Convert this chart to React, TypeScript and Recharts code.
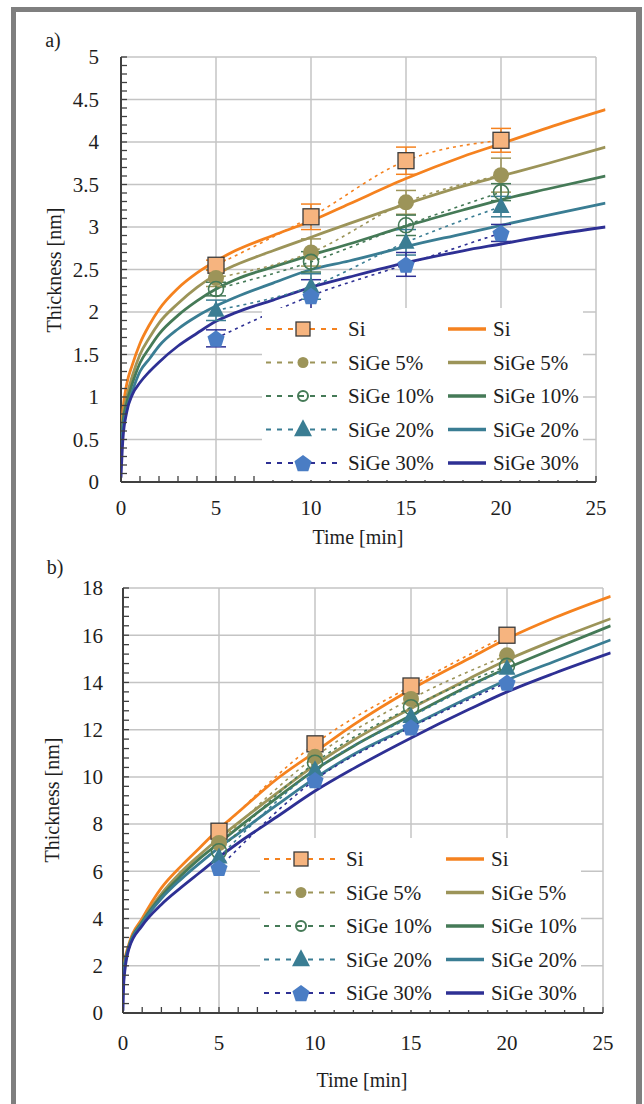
import React from 'react';
import { ComposedChart, Line, XAxis, YAxis, ReferenceLine, ErrorBar, Legend } from 'recharts';

const FONT = '"Liberation Serif", serif';
const TEXT = '#1e1e1e';
const GRID = '#c4c4c4';
const AXIS = '#404040';
const TICK_FS = 21;
const TITLE_FS = 20;

// ---------- shared ----------
const seriesNames = ['Si', 'SiGe 5%', 'SiGe 10%', 'SiGe 20%', 'SiGe 30%'];
const expTimes = [5, 10, 15, 20];
const xMajorTicks = [0, 5, 10, 15, 20, 25];
const xMinorStep = 1;
const xTitle = 'Time [min]';
const yTitle = 'Thickness [nm]';

// ---------- chart a) ----------
const aYMajorTicks = [0, 0.5, 1, 1.5, 2, 2.5, 3, 3.5, 4, 4.5, 5];
const aYMinorStep = 0.1;
const aExpSi = [2.55, 3.12, 3.78, 4.02];
const aExpSiGe5 = [2.4, 2.7, 3.29, 3.61];
const aExpSiGe10 = [2.27, 2.59, 3.02, 3.41];
const aExpSiGe20 = [2.02, 2.3, 2.82, 3.24];
const aExpSiGe30 = [1.69, 2.19, 2.56, 2.93];
const aErrSi = [0.06, 0.15, 0.16, 0.14];
const aErrSiGe5 = [0.1, 0.16, 0.14, 0.2];
const aErrSiGe10 = [0.08, 0.12, 0.12, 0.1];
const aErrSiGe20 = [0.12, 0.15, 0.15, 0.12];
const aErrSiGe30 = [0.1, 0.19, 0.14, 0.1];
const aSimTimes = [0, 0.1, 0.3, 0.6, 1, 1.5, 2, 3, 4, 5, 6, 8, 10, 12, 15, 18, 20, 22.5, 25.5];
const aSimSi = [0.55, 0.85, 1.15, 1.38, 1.63, 1.85, 2.03, 2.28, 2.46, 2.6, 2.72, 2.9, 3.07, 3.27, 3.57, 3.83, 3.98, 4.17, 4.38];
const aSimSiGe5 = [0.45, 0.75, 1.0, 1.25, 1.5, 1.7, 1.87, 2.1, 2.29, 2.44, 2.55, 2.72, 2.88, 3.04, 3.27, 3.48, 3.6, 3.75, 3.94];
const aSimSiGe10 = [0.4, 0.7, 0.93, 1.16, 1.4, 1.58, 1.74, 1.96, 2.13, 2.27, 2.38, 2.53, 2.67, 2.8, 3.01, 3.2, 3.32, 3.45, 3.6];
const aSimSiGe20 = [0.35, 0.62, 0.85, 1.07, 1.3, 1.45, 1.6, 1.8, 1.95, 2.07, 2.17, 2.34, 2.5, 2.6, 2.77, 2.92, 3.02, 3.14, 3.28];
const aSimSiGe30 = [0.05, 0.5, 0.82, 1.03, 1.17, 1.3, 1.41, 1.6, 1.75, 1.89, 1.99, 2.14, 2.29, 2.41, 2.58, 2.72, 2.8, 2.9, 3.0];

// ---------- chart b) ----------
const bYMajorTicks = [0, 2, 4, 6, 8, 10, 12, 14, 16, 18];
const bYMinorStep = 0.4;
const bExpSi = [7.7, 11.4, 13.85, 16.0];
const bExpSiGe5 = [7.2, 10.85, 13.3, 15.15];
const bExpSiGe10 = [6.85, 10.6, 12.95, 14.7];
const bExpSiGe20 = [6.6, 10.3, 12.55, 14.6];
const bExpSiGe30 = [6.15, 9.87, 12.1, 14.0];
const bSimTimes = [0, 0.05, 0.3, 1, 2, 3, 4, 5, 6, 8, 10, 12, 15, 18, 20, 22.5, 25.4];
const bSimSi = [1.4, 2.0, 2.9, 4.0, 5.3, 6.2, 7.0, 7.8, 8.5, 9.9, 11.05, 12.2, 13.7, 15.0, 15.85, 16.75, 17.65];
const bSimSiGe5 = [1.4, 1.9, 2.8, 3.9, 5.05, 5.95, 6.7, 7.4, 8.05, 9.3, 10.5, 11.55, 12.9, 14.15, 14.95, 15.8, 16.7];
const bSimSiGe10 = [1.4, 1.9, 2.8, 3.85, 4.95, 5.8, 6.55, 7.2, 7.85, 9.1, 10.3, 11.3, 12.6, 13.85, 14.6, 15.45, 16.4];
const bSimSiGe20 = [1.3, 1.8, 2.75, 3.8, 4.85, 5.65, 6.35, 7.0, 7.6, 8.8, 9.95, 10.95, 12.15, 13.35, 14.1, 14.9, 15.8];
const bSimSiGe30 = [0.1, 1.4, 2.7, 3.7, 4.6, 5.3, 5.95, 6.6, 7.2, 8.3, 9.4, 10.35, 11.65, 12.85, 13.6, 14.4, 15.25];

// ---------- styles ----------
type Shape = 'square' | 'circle' | 'ring' | 'triangle' | 'pentagon';
type Style = { color: string; fill: string; stroke: string; shape: Shape };
const styles: Style[] = [
  { color: '#F5821F', fill: '#F6B47F', stroke: '#3a3a3a', shape: 'square' },
  { color: '#9C9459', fill: '#9C9459', stroke: '#9C9459', shape: 'circle' },
  { color: '#457A57', fill: 'none', stroke: '#457A57', shape: 'ring' },
  { color: '#3A7D93', fill: '#3A7D93', stroke: '#3A7D93', shape: 'triangle' },
  { color: '#2E3094', fill: '#4A7DC4', stroke: '#4A7DC4', shape: 'pentagon' },
];

function marker(st: Style, cx: number, cy: number, legend: boolean, key?: any) {
  switch (st.shape) {
    case 'square': {
      const s = legend ? 14 : 16;
      return <rect key={key} x={cx - s / 2} y={cy - s / 2} width={s} height={s} fill={st.fill} stroke={st.stroke} strokeWidth={1.3} />;
    }
    case 'circle': {
      const r = legend ? 5.5 : 8;
      return <circle key={key} cx={cx} cy={cy} r={r} fill={st.fill} stroke="none" />;
    }
    case 'ring': {
      const r = legend ? 5 : 7.5;
      return <circle key={key} cx={cx} cy={cy} r={r} fill="none" stroke={st.stroke} strokeWidth={legend ? 2 : 1.6} />;
    }
    case 'triangle': {
      const w = legend ? 18 : 17;
      const h = legend ? 17 : 16;
      const pts = `${cx},${cy - h * 0.6} ${cx + w / 2},${cy + h * 0.4} ${cx - w / 2},${cy + h * 0.4}`;
      return <polygon key={key} points={pts} fill={st.fill} />;
    }
    default: {
      const r = 9;
      const pts = [0, 1, 2, 3, 4]
        .map((k) => {
          const a = ((-90 + 72 * k) * Math.PI) / 180;
          return `${cx + r * Math.cos(a)},${cy + 1 + r * Math.sin(a)}`;
        })
        .join(' ');
      return <polygon key={key} points={pts} fill={st.fill} />;
    }
  }
}

function buildTicks(max: number, step: number) {
  const n = Math.round(max / step);
  const out: number[] = [];
  for (let i = 0; i <= n; i++) out.push(Math.round(i * step * 1000) / 1000);
  return out;
}

const isIn = (arr: number[], v: number) => arr.some((m) => Math.abs(m - v) < 1e-6);

type PanelProps = {
  top: number;
  letter: string;
  plotLeft: number;
  plotTop: number;
  plotBottom: number;
  xMax: number;
  pxPerX: number;
  yMajor: number[];
  yMinorStep: number;
  yLabelGap: number;
  xLabelGap: number;
  sims: number[][];
  simTimes: number[];
  exps: number[][];
  errs: number[][] | null;
  legendLeft: number;
  legendTop: number;
  letterPos: [number, number];
  xTitlePos: [number, number];
  yTitlePos: [number, number];
};

function Panel(p: PanelProps) {
  const W = 644;
  const H = 560;
  const yMax = p.yMajor[p.yMajor.length - 1];
  const plotRight = p.plotLeft + p.xMax * p.pxPerX;
  const yTicks = buildTicks(yMax, p.yMinorStep);
  const xTicks = buildTicks(25, xMinorStep);

  const YTick = (tp: any) => {
    const v = tp.payload.value;
    const major = isIn(p.yMajor, v);
    return (
      <g>
        <line x1={p.plotLeft} x2={p.plotLeft + 6} y1={tp.y} y2={tp.y} stroke={AXIS} strokeWidth={1.3} />
        {major && (
          <text x={p.plotLeft - p.yLabelGap} y={tp.y} dy="0.35em" textAnchor="end" fontFamily={FONT} fontSize={TICK_FS} fill={TEXT}>
            {String(Math.round(v * 10) / 10)}
          </text>
        )}
      </g>
    );
  };
  const XTick = (tp: any) => {
    const v = tp.payload.value;
    const major = isIn(xMajorTicks, v);
    return (
      <g>
        <line x1={tp.x} x2={tp.x} y1={p.plotBottom} y2={p.plotBottom - 6} stroke={AXIS} strokeWidth={1.3} />
        {major && (
          <text x={tp.x} y={p.plotBottom + p.xLabelGap} dy="0.35em" textAnchor="middle" fontFamily={FONT} fontSize={TICK_FS} fill={TEXT}>
            {v}
          </text>
        )}
      </g>
    );
  };

  const LW = 321;
  const LH = 172;
  const legendContent = () => (
    <svg width={LW} height={LH} style={{ display: 'block', background: '#fff' }}>
      {seriesNames.map((name, i) => {
        const st = styles[i];
        const y = 21 + i * 33.5;
        return (
          <g key={name}>
            <line x1={4} x2={76} y1={y} y2={y} stroke={st.color} strokeWidth={2} strokeDasharray="5 6" />
            {marker(st, 41, y, true)}
            <text x={86} y={y} dy="0.35em" fontFamily={FONT} fontSize={TICK_FS} fill={TEXT}>{name}</text>
            <line x1={186} x2={224} y1={y} y2={y} stroke={st.color} strokeWidth={3.5} />
            <text x={231} y={y} dy="0.35em" fontFamily={FONT} fontSize={TICK_FS} fill={TEXT}>{name}</text>
          </g>
        );
      })}
    </svg>
  );

  const simData = p.sims.map((vals) => p.simTimes.map((t, i) => ({ t, y: vals[i] })));
  const expData = p.exps.map((vals, s) =>
    expTimes.map((t, i) => ({ t, y: vals[i], e: p.errs ? p.errs[s][i] : 0 }))
  );

  const textStyle: React.CSSProperties = {
    position: 'absolute',
    fontFamily: FONT,
    fontSize: TITLE_FS,
    color: TEXT,
    whiteSpace: 'nowrap',
    lineHeight: 1,
  };

  return (
    <div style={{ position: 'absolute', left: 0, top: p.top, width: W, height: H }}>
      <ComposedChart
        width={W}
        height={H}
        margin={{ top: p.plotTop, left: p.plotLeft - 60, right: W - plotRight, bottom: H - p.plotBottom - 60 }}
      >
        <XAxis
          type="number"
          dataKey="t"
          domain={[0, p.xMax]}
          ticks={xTicks}
          interval={0}
          height={60}
          axisLine={false}
          tickLine={false}
          tickSize={0}
          tick={XTick}
          allowDataOverflow
        />
        <YAxis
          type="number"
          dataKey="y"
          domain={[0, yMax]}
          ticks={yTicks}
          interval={0}
          width={60}
          axisLine={false}
          tickLine={false}
          tickSize={0}
          tick={YTick}
          allowDataOverflow
        />
        {xMajorTicks.slice(1).map((x) => (
          <ReferenceLine key={'gx' + x} x={x} stroke={GRID} strokeWidth={1.5} />
        ))}
        {p.yMajor.slice(1).map((y) => (
          <ReferenceLine key={'gy' + y} segment={[{ x: 0, y }, { x: 25, y }]} stroke={GRID} strokeWidth={1.5} />
        ))}
        <ReferenceLine x={0} stroke={AXIS} strokeWidth={2} />
        <ReferenceLine segment={[{ x: 0, y: 0 }, { x: 25, y: 0 }]} stroke={AXIS} strokeWidth={2} />
        {simData.map((d, i) => (
          <Line
            key={'sim' + i}
            data={d}
            dataKey="y"
            type="monotone"
            stroke={styles[i].color}
            strokeWidth={2.8}
            dot={false}
            activeDot={false}
            isAnimationActive={false}
          />
        ))}
        {expData.map((d, i) => (
          <Line
            key={'exp' + i}
            data={d}
            dataKey="y"
            type="monotone"
            stroke={styles[i].color}
            strokeWidth={1.6}
            strokeDasharray="3 4"
            dot={(dp: any) => marker(styles[i], dp.cx, dp.cy, false, 'm' + i + '-' + dp.index)}
            activeDot={false}
            isAnimationActive={false}
          >
            {p.errs && (
              <ErrorBar dataKey="e" direction="y" width={10} strokeWidth={1.5} stroke={styles[i].color} />
            )}
          </Line>
        ))}
        <Legend
          layout="vertical"
          align="center"
          verticalAlign="middle"
          content={legendContent}
          wrapperStyle={{ left: p.legendLeft, top: p.legendTop, width: LW, height: LH, background: '#fff' }}
        />
      </ComposedChart>
      <div style={{ ...textStyle, left: p.letterPos[0], top: p.letterPos[1], transform: 'translate(-50%,-50%)' }}>{p.letter}</div>
      <div style={{ ...textStyle, left: p.xTitlePos[0], top: p.xTitlePos[1], transform: 'translate(-50%,-50%)' }}>{xTitle}</div>
      <div
        style={{ ...textStyle, left: p.yTitlePos[0], top: p.yTitlePos[1], transform: 'translate(-50%,-50%) rotate(-90deg)' }}
      >
        {yTitle}
      </div>
    </div>
  );
}

export default function App() {
  return (
    <div style={{ position: 'absolute', left: 0, top: 0, width: 644, height: 1104, background: '#fff', overflow: 'hidden' }}>
      <div
        style={{
          position: 'absolute',
          left: 11,
          top: 7,
          width: 631,
          height: 1130,
          boxSizing: 'border-box',
          borderLeft: '5px solid #7f7f7f',
          borderTop: '5px solid #7f7f7f',
          borderRight: '6px solid #7f7f7f',
        }}
      />
      <Panel
        top={0}
        letter="a)"
        plotLeft={121}
        plotTop={57}
        plotBottom={482}
        xMax={25.5}
        pxPerX={19}
        yMajor={aYMajorTicks}
        yMinorStep={aYMinorStep}
        yLabelGap={22}
        xLabelGap={26}
        simTimes={aSimTimes}
        sims={[aSimSi, aSimSiGe5, aSimSiGe10, aSimSiGe20, aSimSiGe30]}
        exps={[aExpSi, aExpSiGe5, aExpSiGe10, aExpSiGe20, aExpSiGe30]}
        errs={[aErrSi, aErrSiGe5, aErrSiGe10, aErrSiGe20, aErrSiGe30]}
        legendLeft={262}
        legendTop={308}
        letterPos={[53, 40]}
        xTitlePos={[358, 537]}
        yTitlePos={[54, 270]}
      />
      <Panel
        top={540}
        letter="b)"
        plotLeft={123}
        plotTop={48}
        plotBottom={473}
        xMax={25.4}
        pxPerX={19.2}
        yMajor={bYMajorTicks}
        yMinorStep={bYMinorStep}
        yLabelGap={20}
        xLabelGap={30}
        simTimes={bSimTimes}
        sims={[bSimSi, bSimSiGe5, bSimSiGe10, bSimSiGe20, bSimSiGe30]}
        exps={[bExpSi, bExpSiGe5, bExpSiGe10, bExpSiGe20, bExpSiGe30]}
        errs={null}
        legendLeft={260}
        legendTop={298}
        letterPos={[55, 27]}
        xTitlePos={[362, 540]}
        yTitlePos={[52, 260]}
      />
    </div>
  );
}
